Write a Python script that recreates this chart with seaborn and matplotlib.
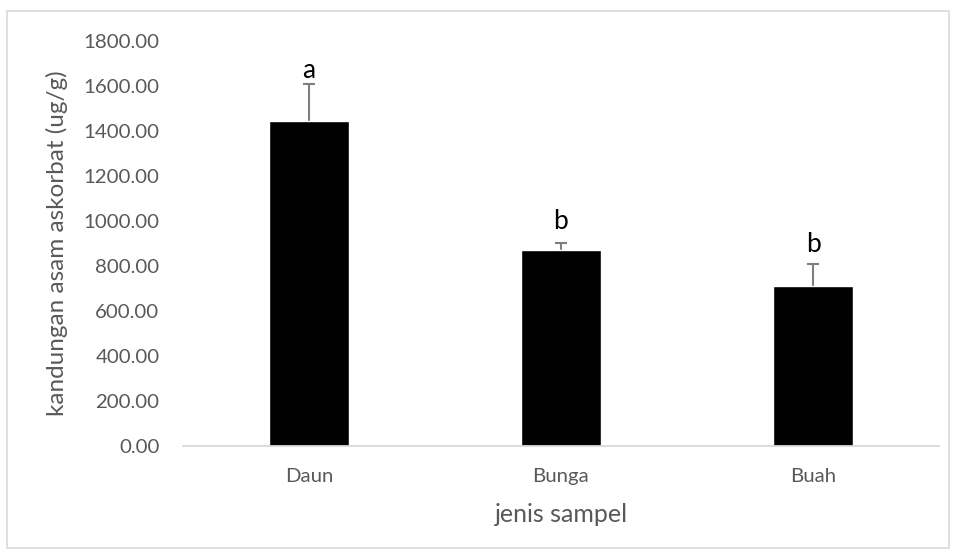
import matplotlib
matplotlib.use("Agg")
import matplotlib.pyplot as plt
import seaborn as sns
import pandas as pd
from matplotlib.patches import Rectangle
from matplotlib.ticker import FormatStrFormatter

# data
jenis = ["Daun", "Bunga", "Buah"]
kandungan = [1444, 870, 711]
sd = [163, 34, 99]
notasi = ["a", "b", "b"]
label_offset = [1, 6, 5]  # points above the error bar top

df = pd.DataFrame({"jenis": jenis, "kandungan": kandungan})

sns.set_style("white")
plt.rcParams["font.family"] = ["Lato", "DejaVu Sans"]

fig = plt.figure(figsize=(9.57, 5.56), dpi=100)
ax = fig.add_axes([0.1912, 0.1978, 0.79, 0.7285])

sns.barplot(data=df, x="jenis", y="kandungan", color="black", width=0.315,
            errorbar=None, saturation=1, ax=ax, zorder=2)

# error bars behind the bars, so only the upper half shows
x = range(len(jenis))
ax.errorbar(x, kandungan, yerr=sd, fmt="none",
            ecolor="#7f7f7f", elinewidth=1.5, capsize=4.3, capthick=1.5, zorder=1)

for i, (v, e, t, o) in enumerate(zip(kandungan, sd, notasi, label_offset)):
    ax.annotate(t, (i, v + e), xytext=(0, o), textcoords="offset points",
                ha="center", va="bottom", fontsize=19, color="black")

ax.set_ylim(0, 1800)
ax.set_xlim(-0.5, 2.5)
ax.set_yticks(range(0, 1801, 200))
ax.yaxis.set_major_formatter(FormatStrFormatter("%.2f"))

for s in ["top", "right", "left"]:
    ax.spines[s].set_visible(False)
ax.spines["bottom"].set_color("#d9d9d9")
ax.spines["bottom"].set_linewidth(1.3)

ax.tick_params(axis="both", length=0, labelsize=14.7, labelcolor="#595959")
ax.tick_params(axis="y", pad=17)
ax.tick_params(axis="x", pad=16)

ax.set_xlabel("jenis sampel", fontsize=18, color="#595959", labelpad=13)
ax.set_ylabel("kandungan asam askorbat (ug/g)", fontsize=17.5, color="#595959")
ax.yaxis.set_label_coords(-0.152, 0.5)

fig.patches.append(Rectangle((7 / 957, 1 - 548 / 556), 942 / 957, 537 / 556,
                             transform=fig.transFigure, fill=False,
                             edgecolor="#d9d9d9", linewidth=1.2))

fig.savefig("out.png", dpi=100)
